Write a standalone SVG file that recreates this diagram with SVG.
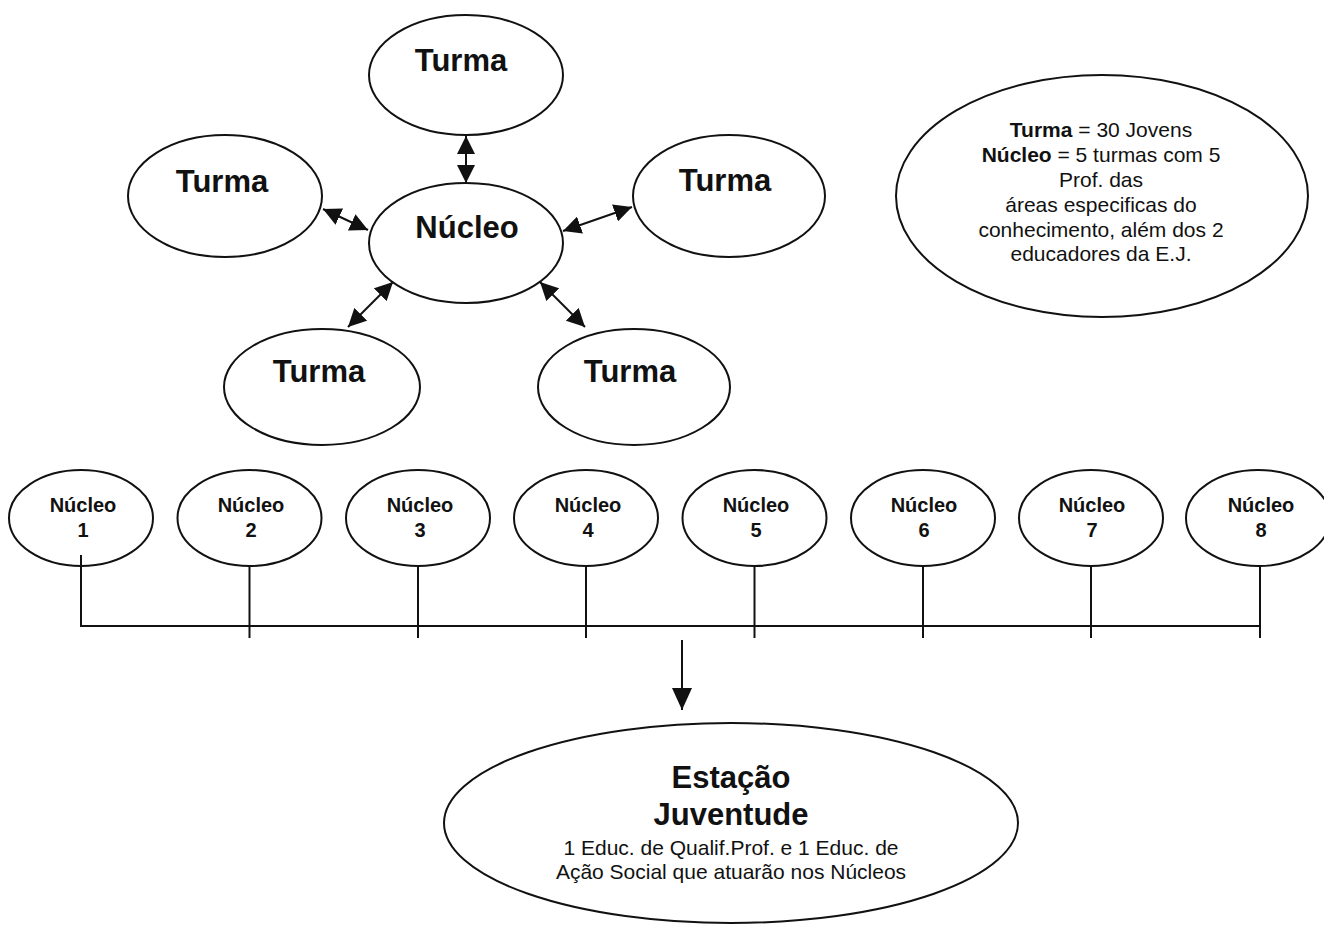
<svg xmlns="http://www.w3.org/2000/svg" width="1324" height="925" viewBox="0 0 1324 925">
<style>
.node{fill:#fff;stroke:#111;stroke-width:2}
.big{font-family:"Liberation Sans",Arial,sans-serif;font-weight:bold;font-size:31px;fill:#111;text-anchor:middle}
.small{font-family:"Liberation Sans",Arial,sans-serif;font-weight:bold;font-size:20px;fill:#111;text-anchor:middle}
.body{font-family:"Liberation Sans",Arial,sans-serif;font-size:21px;fill:#111;text-anchor:middle}
.conn{stroke:#111;stroke-width:2;fill:none}
</style>
<defs>
<marker id="ah" viewBox="0 0 18 18" refX="18" refY="9" markerWidth="18" markerHeight="18" markerUnits="userSpaceOnUse" orient="auto-start-reverse">
<path d="M0,0 L18,9 L0,18 z" fill="#111"/>
</marker>
<marker id="ahd" viewBox="0 0 22 20" refX="22" refY="10" markerWidth="22" markerHeight="20" markerUnits="userSpaceOnUse" orient="auto">
<path d="M0,0 L22,10 L0,20 z" fill="#111"/>
</marker>
</defs>
<rect width="1324" height="925" fill="#fff"/>
<g id="turma-top"><ellipse class="node" cx="466" cy="75" rx="97" ry="60"/><text class="big" x="461" y="71">Turma</text></g>
<g id="turma-left"><ellipse class="node" cx="225" cy="196" rx="97" ry="61"/><text class="big" x="222" y="192">Turma</text></g>
<g id="turma-right"><ellipse class="node" cx="729" cy="196" rx="96" ry="61"/><text class="big" x="725" y="191">Turma</text></g>
<g id="nucleo-center"><ellipse class="node" cx="466" cy="243" rx="97" ry="60"/><text class="big" x="467" y="238">Núcleo</text></g>
<g id="turma-bottom-left"><ellipse class="node" cx="322" cy="387" rx="98" ry="58"/><text class="big" x="319" y="382">Turma</text></g>
<g id="turma-bottom-right"><ellipse class="node" cx="634" cy="387" rx="96" ry="58"/><text class="big" x="630" y="382">Turma</text></g>
<g id="info"><ellipse class="node" cx="1102" cy="196" rx="206" ry="121"/>
<text class="body" x="1101" y="137"><tspan font-weight="bold">Turma</tspan> = 30 Jovens</text>
<text class="body" x="1101" y="162"><tspan font-weight="bold">Núcleo</tspan> = 5 turmas com 5</text>
<text class="body" x="1101" y="187">Prof. das</text>
<text class="body" x="1101" y="212">áreas especificas do</text>
<text class="body" x="1101" y="237">conhecimento, além dos 2</text>
<text class="body" x="1101" y="261">educadores da E.J.</text>
</g>
<g id="nucleo-1"><ellipse class="node" cx="81" cy="518" rx="72" ry="48"/><text class="small" x="83" y="512">Núcleo</text><text class="small" x="83" y="537">1</text></g>
<g id="nucleo-2"><ellipse class="node" cx="249.5" cy="518" rx="72" ry="48"/><text class="small" x="251" y="512">Núcleo</text><text class="small" x="251" y="537">2</text></g>
<g id="nucleo-3"><ellipse class="node" cx="418" cy="518" rx="72" ry="48"/><text class="small" x="420" y="512">Núcleo</text><text class="small" x="420" y="537">3</text></g>
<g id="nucleo-4"><ellipse class="node" cx="586" cy="518" rx="72" ry="48"/><text class="small" x="588" y="512">Núcleo</text><text class="small" x="588" y="537">4</text></g>
<g id="nucleo-5"><ellipse class="node" cx="754.5" cy="518" rx="72" ry="48"/><text class="small" x="756" y="512">Núcleo</text><text class="small" x="756" y="537">5</text></g>
<g id="nucleo-6"><ellipse class="node" cx="923" cy="518" rx="72" ry="48"/><text class="small" x="924" y="512">Núcleo</text><text class="small" x="924" y="537">6</text></g>
<g id="nucleo-7"><ellipse class="node" cx="1091" cy="518" rx="72" ry="48"/><text class="small" x="1092" y="512">Núcleo</text><text class="small" x="1092" y="537">7</text></g>
<g id="nucleo-8"><ellipse class="node" cx="1258" cy="518" rx="72" ry="48"/><text class="small" x="1261" y="512">Núcleo</text><text class="small" x="1261" y="537">8</text></g>
<g id="estacao"><ellipse class="node" cx="731" cy="823" rx="287" ry="100"/>
<text class="big" x="731" y="788">Estação</text>
<text class="big" x="731" y="825">Juventude</text>
<text class="body" x="731" y="855">1 Educ. de Qualif.Prof. e 1 Educ. de</text>
<text class="body" x="731" y="879">Ação Social que atuarão nos Núcleos</text>
</g>
<g id="connectors">
<line class="conn" x1="466" y1="136" x2="466" y2="183" marker-start="url(#ah)" marker-end="url(#ah)"/>
<line class="conn" x1="323" y1="209" x2="368" y2="230" marker-start="url(#ah)" marker-end="url(#ah)"/>
<line class="conn" x1="563" y1="231" x2="632" y2="207" marker-start="url(#ah)" marker-end="url(#ah)"/>
<line class="conn" x1="393" y1="282" x2="348" y2="327" marker-start="url(#ah)" marker-end="url(#ah)"/>
<line class="conn" x1="540" y1="282" x2="585" y2="327" marker-start="url(#ah)" marker-end="url(#ah)"/>
<path class="conn" d="M81,555 V626 H1260 M249.5,566 V638 M418,566 V638 M586,566 V638 M754.5,566 V638 M923,566 V638 M1091,566 V638 M1260,566 V638"/>
<line class="conn" x1="682" y1="640" x2="682" y2="710" marker-end="url(#ahd)"/>
</g>
</svg>
